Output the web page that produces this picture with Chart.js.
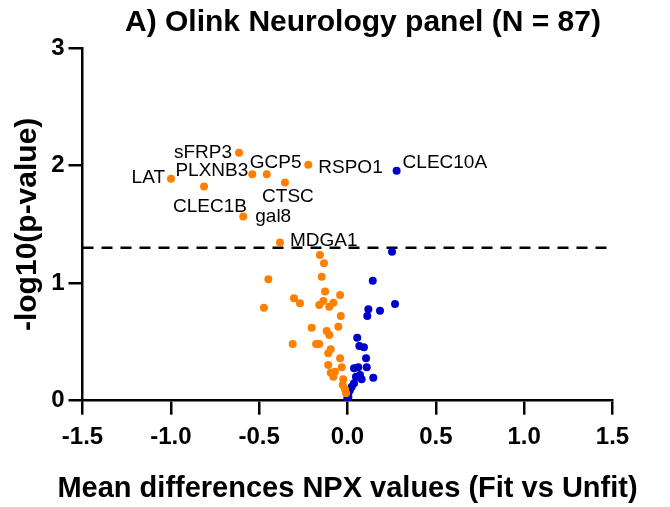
<!DOCTYPE html>
<html>
<head>
<meta charset="utf-8">
<title>Olink Neurology panel</title>
<script src="https://cdn.jsdelivr.net/npm/chart.js@4.4.1/dist/chart.umd.min.js"></script>
<style>
  html, body { margin: 0; padding: 0; background: #fff; }
  #wrap { width: 670px; height: 507px; }
</style>
</head>
<body>
<div id="wrap"><canvas id="volcano" width="670" height="507"></canvas></div>
<script>
// ── Textos y ejes ────────────────────────────────────────────────────────────
const chartTitle = 'A) Olink Neurology panel (N = 87)';
const xAxisTitle = 'Mean differences NPX values (Fit vs Unfit)';
const yAxisTitle = '-log10(p-value)';
const xTickValues = [-1.5, -1.0, -0.5, 0.0, 0.5, 1.0, 1.5];
const xTickLabels = ['-1.5', '-1.0', '-0.5', '0.0', '0.5', '1.0', '1.5'];
const yTickValues = [0, 1, 2, 3];
const yTickLabels = ['0', '1', '2', '3'];
const pCutoff = 1.301; // -log10(0.05)

// ── Proteínas etiquetadas ───────────────────────────────────────────────────
const labeledNames = ['sFRP3', 'LAT', 'PLXNB3', 'GCP5', 'CLEC1B', 'CTSC', 'RSPO1', 'gal8', 'MDGA1', 'CLEC10A'];
const labeledX     = [-0.614, -0.999, -0.539, -0.457, -0.812, -0.354, -0.222, -0.590, -0.382, 0.278];
const labeledY     = [2.108, 1.887, 1.927, 1.927, 1.821, 1.855, 2.006, 1.566, 1.345, 1.955];
const labeledUp    = [false, false, false, false, false, false, false, false, false, true];

// ── Resto de proteínas (menor en Fit, naranja) ──────────────────────────────
const downX = [-0.156, -0.133, -0.448, -0.146, -0.127, -0.042, -0.303, -0.269, -0.137, -0.160,
               -0.080, -0.103, -0.473, -0.038, -0.203, -0.052, -0.118, -0.103, -0.310, -0.178,
               -0.160, -0.095, -0.109, -0.042, -0.109, -0.033, -0.095, -0.024, -0.027, -0.014,
               -0.008, -0.071, -0.080];
const downY = [1.240, 1.169, 1.033, 1.055, 0.928, 0.900, 0.871, 0.829, 0.849, 0.814,
               0.834, 0.800, 0.791, 0.721, 0.621, 0.630, 0.593, 0.559, 0.483, 0.483,
               0.483, 0.437, 0.403, 0.361, 0.304, 0.284, 0.238, 0.182, 0.134, 0.097,
               0.063, 0.247, 0.204];

// ── Resto de proteínas (mayor en Fit, azul) ─────────────────────────────────
const upX = [0.252, 0.143, 0.269, 0.118, 0.184, 0.112, 0.055, 0.067, 0.093, 0.105,
             0.109, 0.037, 0.061, 0.146, 0.048, 0.080, 0.037, 0.024, 0.014, 0.005,
             -0.001, 0.071, 0.005];
const upY = [1.268, 1.021, 0.823, 0.778, 0.766, 0.721, 0.536, 0.466, 0.454, 0.361,
             0.284, 0.276, 0.284, 0.196, 0.204, 0.182, 0.148, 0.119, 0.091, 0.063,
             0.020, 0.219, 0.034];

// ── Estilo ──────────────────────────────────────────────────────────────────
const ORANGE = '#ff8000';
const BLUE = '#0000cc';
const FONT = '"Liberation Sans", Arial, Helvetica, sans-serif';
Chart.defaults.font.family = FONT;
Chart.defaults.color = '#000';

// desplazamiento de cada etiqueta respecto a su punto (px)
const labelOffsets = {
    sFRP3:   { align: 'right',  dx: -7, dy: 0 },
    LAT:     { align: 'right',  dx: -6, dy: -1.5 },
    PLXNB3:  { align: 'right',  dx: -4, dy: -3 },
    GCP5:    { align: 'left',   dx: -17, dy: -11 },
    CLEC1B:  { align: 'center', dx: 6, dy: 20 },
    CTSC:    { align: 'center', dx: 3, dy: 14 },
    RSPO1:   { align: 'left',   dx: 10, dy: 3 },
    gal8:    { align: 'left',   dx: 12, dy: 0 },
    MDGA1:   { align: 'left',   dx: 10, dy: -2 },
    CLEC10A: { align: 'left',   dx: 6, dy: -8 },
};

const toPoints = (xs, ys) => xs.map((x, i) => ({ x, y: ys[i] }));

// ── Plugins ─────────────────────────────────────────────────────────────────
// título del panel y título del eje X (más ancho que el área del gráfico)
const titlePlugin = {
    id: 'tituloPanel',
    afterDraw(chart) {
        const { ctx, chartArea } = chart;
        ctx.save();
        ctx.fillStyle = '#000';
        ctx.textAlign = 'center';
        ctx.textBaseline = 'middle';
        ctx.font = `bold 30px ${FONT}`;
        ctx.fillText(chartTitle, 363, 23);
        ctx.font = `bold 29px ${FONT}`;
        ctx.fillText(xAxisTitle, (chartArea.left + chartArea.right) / 2, 489);
        ctx.restore();
    },
};

const labelPlugin = {
    id: 'etiquetas',
    afterDatasetsDraw(chart) {
        const { ctx, scales } = chart;
        ctx.save();
        ctx.font = `19px ${FONT}`;
        ctx.fillStyle = '#000';
        ctx.textBaseline = 'middle';
        labeledNames.forEach((name, i) => {
            const o = labelOffsets[name];
            const px = scales.x.getPixelForValue(labeledX[i]);
            const py = scales.y.getPixelForValue(labeledY[i]);
            ctx.textAlign = o.align;
            ctx.fillText(name, px + o.dx, py + o.dy);
        });
        ctx.restore();
    },
};

const axisStyle = {
    grid: {
        display: true,
        drawOnChartArea: false,
        drawTicks: true,
        tickLength: 14,
        tickWidth: 2.5,
        color: '#000',
        lineWidth: 2.5,
    },
    border: { display: true, color: '#000', width: 2.5 },
};

new Chart(document.getElementById('volcano'), {
    type: 'scatter',
    data: {
        datasets: [
            {
                label: 'Fit < Unfit',
                data: toPoints(downX, downY),
                backgroundColor: ORANGE,
                borderWidth: 0,
                pointRadius: 4,
            },
            {
                label: 'Fit > Unfit',
                data: toPoints(upX, upY),
                backgroundColor: BLUE,
                borderWidth: 0,
                pointRadius: 4,
            },
            {
                label: 'Etiquetadas',
                data: toPoints(labeledX, labeledY),
                backgroundColor: labeledUp.map(u => (u ? BLUE : ORANGE)),
                borderWidth: 0,
                pointRadius: 4,
            },
            {
                type: 'line',
                label: 'p = 0.05',
                data: [{ x: xTickValues[0], y: pCutoff }, { x: xTickValues[xTickValues.length - 1], y: pCutoff }],
                borderColor: '#000',
                borderWidth: 2.5,
                borderDash: [11, 8],
                pointRadius: 0,
                fill: false,
            },
        ],
    },
    options: {
        responsive: false,
        animation: false,
        layout: { padding: { top: 48, right: 57.5, left: 0, bottom: 0 } },
        plugins: {
            legend: { display: false },
            tooltip: { enabled: false },
        },
        scales: {
            x: {
                type: 'linear',
                min: xTickValues[0],
                max: xTickValues[xTickValues.length - 1],
                afterBuildTicks: s => { s.ticks = xTickValues.map(v => ({ value: v })); },
                afterFit: s => { s.height = 106.3; },
                ticks: {
                    color: '#000',
                    font: { size: 24, weight: 'bold' },
                    padding: 8,
                    maxRotation: 0,
                    callback: (v, i) => xTickLabels[i],
                },
                title: { display: false },
                ...axisStyle,
            },
            y: {
                type: 'linear',
                min: yTickValues[0],
                max: yTickValues[yTickValues.length - 1],
                afterBuildTicks: s => { s.ticks = yTickValues.map(v => ({ value: v })); },
                afterFit: s => { s.width = 82.5; },
                ticks: {
                    color: '#000',
                    font: { size: 24, weight: 'bold' },
                    padding: 4,
                    callback: (v, i) => yTickLabels[i],
                },
                title: {
                    display: true,
                    text: yAxisTitle,
                    color: '#000',
                    font: { size: 30, weight: 'bold' },
                    padding: { top: 10, bottom: 0 },
                },
                ...axisStyle,
            },
        },
    },
    plugins: [titlePlugin, labelPlugin],
});
</script>
</body>
</html>
